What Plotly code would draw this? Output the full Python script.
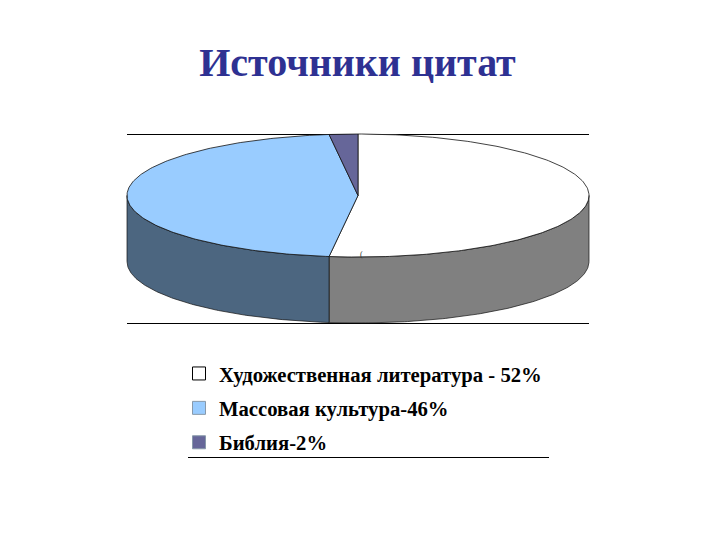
import numpy as np
import plotly.graph_objects as go

# Data
categories = ["Художественная литература - 52%", "Массовая культура-46%", "Библия-2%"]
values = [52, 46, 2]
top_colors = ["#FFFFFF", "#99CCFF", "#666699"]
side_colors = ["#808080", "#4C6680", "#333A5A"]
title_text = "Источники цитат"

# Pie geometry in page pixels
CX, CY, RX, RY, DEPTH = 358, 195.5, 231, 61.5, 66


def ex(t):
    return CX + RX * np.sin(t)


def ey(t):
    return CY - RY * np.cos(t)


fig = go.Figure()
total = sum(values)
edges = np.cumsum([0] + values) / total * 2 * np.pi

# Visible walls: the front half of the ellipse (angles 90 to 270 degrees)
for i in range(len(values)):
    a = max(edges[i], np.pi / 2)
    b = min(edges[i + 1], 3 * np.pi / 2)
    if b <= a:
        continue
    t = np.linspace(a, b, 120)
    xs = np.concatenate([ex(t), ex(t[::-1])])
    ys = np.concatenate([ey(t), ey(t[::-1]) + DEPTH])
    fig.add_trace(go.Scatter(
        x=np.append(xs, xs[0]), y=np.append(ys, ys[0]), mode="lines", fill="toself",
        fillcolor=side_colors[i], line=dict(color="#111111", width=0.7),
        showlegend=False, hoverinfo="skip"))

# Top face slices
for i in range(len(values)):
    t = np.linspace(edges[i], edges[i + 1], 200)
    xs = np.concatenate([[CX], ex(t), [CX]])
    ys = np.concatenate([[CY], ey(t), [CY]])
    fig.add_trace(go.Scatter(
        x=xs, y=ys, mode="lines", fill="toself", fillcolor=top_colors[i],
        line=dict(color="#111111", width=0.8), showlegend=False, hoverinfo="skip"))

# Legend entries
for i, name in enumerate(categories):
    fig.add_trace(go.Scatter(
        x=[None], y=[None], mode="markers", name=f"<b>{name}</b>", legendgroup=name,
        marker=dict(symbol="square", size=13, color=top_colors[i],
                    line=dict(color="#000000" if i == 0 else "#8899AA", width=1)),
        hoverinfo="skip"))

line = dict(color="#000000", width=1)
fig.update_layout(
    width=720, height=540, autosize=False,
    margin=dict(l=0, r=0, t=0, b=0),
    paper_bgcolor="#FFFFFF", plot_bgcolor="#FFFFFF",
    xaxis=dict(range=[0, 720], visible=False, fixedrange=True),
    yaxis=dict(range=[540, 0], visible=False, fixedrange=True),
    title=dict(text=f"<b>{title_text}</b>", x=357.5 / 720, xanchor="center",
               y=1 - 62 / 540, yanchor="middle",
               font=dict(family="Liberation Serif", size=40, color="#2E3192")),
    legend=dict(x=179 / 720, y=1 - 353.5 / 540, xanchor="left", yanchor="top",
                traceorder="grouped", tracegroupgap=4.5, itemwidth=30,
                bgcolor="rgba(0,0,0,0)",
                font=dict(family="Liberation Serif", size=20.7, color="#000000")),
    shapes=[
        dict(type="line", x0=127, x1=589, y0=134.5, y1=134.5, line=line, layer="below"),
        dict(type="line", x0=127, x1=589, y0=323.5, y1=323.5, line=line, layer="below"),
        dict(type="line", x0=188, x1=549, y0=457.5, y1=457.5, line=line),
    ],
    annotations=[dict(x=361, y=254, text="(", showarrow=False,
                      font=dict(family="Liberation Serif", size=8, color="#333333"))],
)

fig.write_html("out.html", config={"displayModeBar": False},
               post_script="document.body.style.margin='0';")
